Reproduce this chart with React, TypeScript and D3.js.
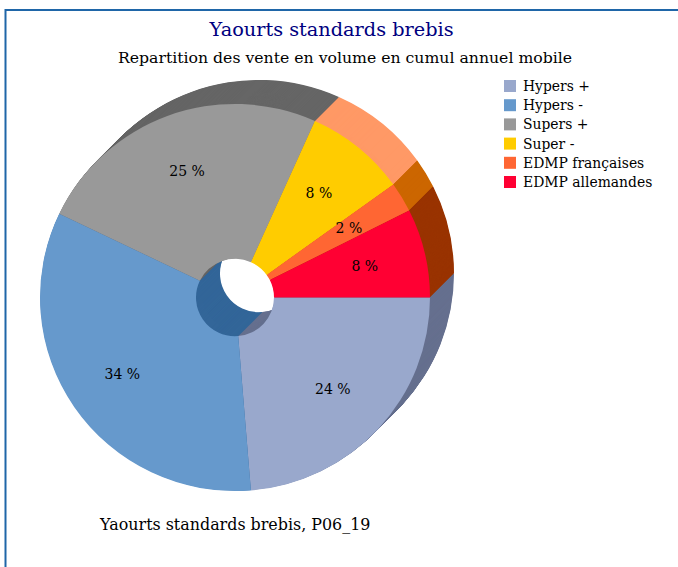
import React from 'react';
import * as d3 from 'd3';

const categories = ['Hypers +', 'Hypers -', 'Supers +', 'Super -', 'EDMP françaises', 'EDMP allemandes'];
const shares = [23.7, 33.42, 24.6, 8.36, 2.5, 7.42];
const shareLabels = ['24 %', '34 %', '25 %', '8 %', '2 %', '8 %'];
const colors = ['#99a8cc', '#6699cc', '#999999', '#ffcc00', '#ff6633', '#ff0033'];
const shadowColors = ['#66708f', '#336699', '#666666', '#ff9966', '#cc6600', '#993300'];

const FONT = '"DejaVu Serif", serif';
const width = 678;
const height = 567;
const radius = 195;
const holeRadius = 39;
const cx = 235;
const cy = 297.5;
const squash = 0.9925;
const depthX = 24;
const depthY = -24;

const App = () => {
    const slices = d3.pie<number>()
        .sort(null)
        .startAngle(Math.PI / 2)
        .endAngle(Math.PI / 2 + 2 * Math.PI)(shares);

    const arc = d3.arc<d3.PieArcDatum<number>>()
        .innerRadius(holeRadius)
        .outerRadius(radius);

    const labelArc = d3.arc<d3.PieArcDatum<number>>()
        .innerRadius(135)
        .outerRadius(135);

    const legendY = d3.scalePoint<string>()
        .domain(categories)
        .range([86, 182]);

    // extruded side of the pie: copies stacked from the back towards the front
    const layers = d3.range(48, 0, -1).map(k => k / 48);

    return (
        <svg
            width={width}
            height={height}
            style={{ position: 'absolute', left: 0, top: 0, display: 'block' }}
            fontFamily={FONT}
        >
            <rect width={width} height={height} fill="#fff" />
            <path d="M5.5,567 V10 H678" fill="none" stroke="#1f66a8" strokeWidth={2} />

            <text x={331.5} y={36} textAnchor="middle" fontSize={19.3} fill="#000080">Yaourts standards brebis</text>
            <text x={345} y={63} textAnchor="middle" fontSize={15.7}>Repartition des vente en volume en cumul annuel mobile</text>

            {layers.map(t => (
                <g key={t} transform={`translate(${cx + depthX * t},${cy + depthY * t}) scale(1,${squash})`}>
                    {slices.map((d, i) => (
                        <path key={i} d={arc(d) ?? ''} fill={shadowColors[i]} />
                    ))}
                </g>
            ))}
            <g transform={`translate(${cx},${cy}) scale(1,${squash})`}>
                {slices.map((d, i) => (
                    <path key={i} d={arc(d) ?? ''} fill={colors[i]} />
                ))}
            </g>
            <g transform={`translate(${cx},${cy})`}>
                {slices.map((d, i) => {
                    const [x, y] = labelArc.centroid(d);
                    return (
                        <text key={i} x={x - 1.5} y={y} dy={5} textAnchor="middle" fontSize={14} fill="#000">
                            {shareLabels[i]}
                        </text>
                    );
                })}
            </g>

            {categories.map(c => (
                <g key={c} transform={`translate(504,${legendY(c)})`}>
                    <rect y={-6} width={12} height={12} fill={colors[categories.indexOf(c)]} />
                    <text x={19} y={5} fontSize={13.9}>{c}</text>
                </g>
            ))}

            <text x={100} y={530} fontSize={15.9}>Yaourts standards brebis, P06_19</text>
        </svg>
    );
};

export default App;
